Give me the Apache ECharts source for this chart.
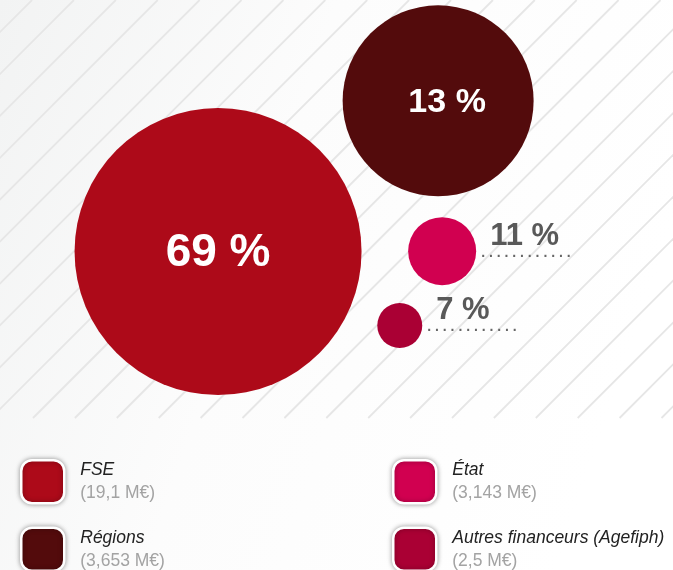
<!DOCTYPE html>
<html>
<head>
<meta charset="utf-8">
<script src="https://cdn.jsdelivr.net/npm/echarts@6/dist/echarts.min.js"></script>
<style>
html, body { margin: 0; padding: 0; background: #fff; }
#chart { width: 673px; height: 570px; }
</style>
</head>
<body>
<div id="chart"></div>
<script>
// financeurs
var names = ['FSE', 'Régions', 'État', 'Autres financeurs (Agefiph)'];
var amounts = ['19,1', '3,653', '3,143', '2,5'];
var shares = [69, 13, 11, 7];
// bubble layout (axis units 0-100)
var posX = [32.4, 65.1, 65.7, 59.4];
var posY = [40.1, 76.0, 40.2, 22.5];
var bubbleSize = [287, 191, 68, 45];
var colors = ['#ad0a19', '#530b0c', '#d10050', '#aa0034'];

var chart = echarts.init(document.getElementById('chart'));

// fond hachuré
var stripes = [];
for (var c = 32; c < 673 + 420; c += 41.9) {
    stripes.push({
        type: 'line',
        silent: true,
        shape: { x1: c, y1: 0, x2: c - 418, y2: 418 },
        style: { stroke: '#e6e6e6', lineWidth: 1.8 }
    });
}

var series = [];
for (var i = 0; i < names.length; i++) {
    var label;
    if (bubbleSize[i] > 100) {
        label = {
            show: true,
            position: 'inside',
            formatter: shares[i] + ' %',
            color: '#fff',
            fontFamily: 'Liberation Sans',
            fontWeight: 'bold',
            fontSize: i == 0 ? 46 : 34,
            offset: i == 0 ? [0, 2] : [9, 2]
        };
    } else {
        label = {
            show: true,
            position: 'right',
            distance: 5,
            offset: [0, -12],
            formatter: '{p|' + shares[i] + ' %}\n{d|. . . . . . . . . . . .}',
            rich: {
                p: { fontFamily: 'Liberation Sans', fontSize: 31, fontWeight: 'bold', color: '#595959', lineHeight: 28, padding: [0, 0, 0, 9] },
                d: { fontFamily: 'Liberation Sans', fontSize: 14, fontWeight: 'bold', color: '#666', lineHeight: 6 }
            }
        };
    }
    series.push({
        name: names[i],
        type: 'scatter',
        data: [[posX[i], posY[i]]],
        symbolSize: bubbleSize[i],
        itemStyle: { color: colors[i], opacity: 1 },
        label: label,
        emphasis: { disabled: true }
    });
}

function legendFormatter(name) {
    var k = names.indexOf(name);
    return '{n|' + name + '}\n{v|(' + amounts[k] + ' M€)}';
}

var legendBase = {
    orient: 'vertical',
    top: 459,
    height: 140,
    padding: 0,
    itemWidth: 43,
    itemHeight: 43,
    itemGap: 22,
    icon: 'roundRect',
    selectedMode: false,
    itemStyle: { borderColor: '#fff', borderWidth: 2.5, shadowBlur: 5, shadowColor: 'rgba(0,0,0,0.35)' },
    formatter: legendFormatter,
    textStyle: {
        rich: {
            n: { fontFamily: 'Liberation Sans', fontStyle: 'italic', fontSize: 17.5, color: '#222', lineHeight: 23, padding: [0, 0, 0, 11] },
            v: { fontFamily: 'Liberation Sans', fontSize: 17.5, color: '#a3a3a3', lineHeight: 23, padding: [0, 0, 0, 11] }
        }
    }
};

var option = {
    animation: false,
    backgroundColor: {
        type: 'linear', x: 0, y: 0, x2: 1, y2: 0.4,
        colorStops: [
            { offset: 0, color: '#f2f3f3' },
            { offset: 0.45, color: '#fcfcfc' },
            { offset: 1, color: '#ffffff' }
        ]
    },
    graphic: { elements: stripes },
    grid: { left: 0, top: 0, width: 673, height: 420 },
    xAxis: { type: 'value', min: 0, max: 100, show: false },
    yAxis: { type: 'value', min: 0, max: 100, show: false },
    legend: [
        Object.assign({}, legendBase, { left: 20, data: [names[0], names[1]] }),
        Object.assign({}, legendBase, { left: 392, data: [names[2], names[3]] })
    ],
    series: series
};

chart.setOption(option);
</script>
</body>
</html>
